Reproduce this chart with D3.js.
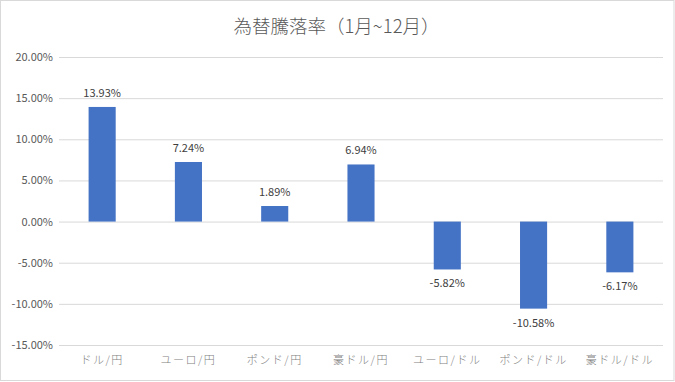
<!DOCTYPE html>
<html>
<head>
<meta charset="utf-8">
<script src="https://cdn.jsdelivr.net/npm/d3@7"></script>
<style>
  body { margin: 0; background: #fff; }
  text { font-family: "Noto Sans CJK JP", "Liberation Sans", sans-serif; }
</style>
</head>
<body>
<div id="chart"></div>
<script>
const categories = ['ドル/円', 'ユーロ/円', 'ポンド/円', '豪ドル/円', 'ユーロ/ドル', 'ポンド/ドル', '豪ドル/ドル'];
const values = [13.93, 7.24, 1.89, 6.94, -5.82, -10.58, -6.17];
const yTicks = [-15, -10, -5, 0, 5, 10, 15, 20];

const svgWidth = 675;
const svgHeight = 382;
const margin = { top: 57, right: 12, bottom: 37, left: 59 };
const width = svgWidth - margin.left - margin.right;
const height = svgHeight - margin.top - margin.bottom;

const root = d3.select('#chart').append('svg')
    .attr('width', svgWidth)
    .attr('height', svgHeight);

// chart area border
root.append('rect')
    .attr('x', 0.5).attr('y', 0.5)
    .attr('width', svgWidth - 1.5).attr('height', svgHeight - 2)
    .attr('fill', '#fff')
    .attr('stroke', '#d9d9d9');

root.append('text')
    .attr('x', svgWidth / 2 - 1)
    .attr('y', 33)
    .attr('text-anchor', 'middle')
    .attr('fill', '#595959')
    .style('font-size', '18.5px')
    .style('font-weight', '300')
    .text('為替騰落率（1月~12月）');

const svg = root.append('g')
    .attr('transform', `translate(${margin.left},${margin.top})`);

const yScale = d3.scaleLinear().domain([-15, 20]).range([height, 0]);
const xScale = d3.scaleBand().domain(categories).range([0, width]).paddingInner(0.686).paddingOuter(0.343);

// gridlines
svg.append('g')
    .call(d3.axisLeft(yScale).tickValues(yTicks).tickSize(-width).tickFormat(d => d.toFixed(2) + '%'))
    .call(g => g.select('.domain').remove())
    .call(g => g.selectAll('line').attr('stroke', '#d9d9d9'))
    .call(g => g.selectAll('text').attr('x', -6).attr('fill', '#595959').style('font-size', '11px'));

svg.selectAll('.bar')
    .data(values)
    .enter().append('rect')
    .attr('class', 'bar')
    .attr('x', (d, i) => xScale(categories[i]))
    .attr('y', d => yScale(Math.max(0, d)))
    .attr('width', xScale.bandwidth())
    .attr('height', d => Math.abs(yScale(d) - yScale(0)))
    .attr('fill', '#4472c4');

svg.selectAll('.lbl')
    .data(values)
    .enter().append('text')
    .attr('class', 'lbl')
    .attr('x', (d, i) => xScale(categories[i]) + xScale.bandwidth() / 2)
    .attr('y', d => d >= 0 ? yScale(d) - 10 : yScale(d) + 18)
    .attr('text-anchor', 'middle')
    .attr('fill', '#404040')
    .style('font-size', '11px')
    .text(d => d.toFixed(2) + '%');

// category labels along the bottom
svg.append('g')
    .attr('transform', `translate(0,${height})`)
    .call(d3.axisBottom(xScale).tickSize(0))
    .call(g => g.select('.domain').remove())
    .call(g => g.selectAll('text').attr('dy', '1.45em').attr('fill', '#7f7f7f')
        .style('font-size', '11px').style('letter-spacing', '1.5px').style('font-weight', '300'));
</script>
</body>
</html>
